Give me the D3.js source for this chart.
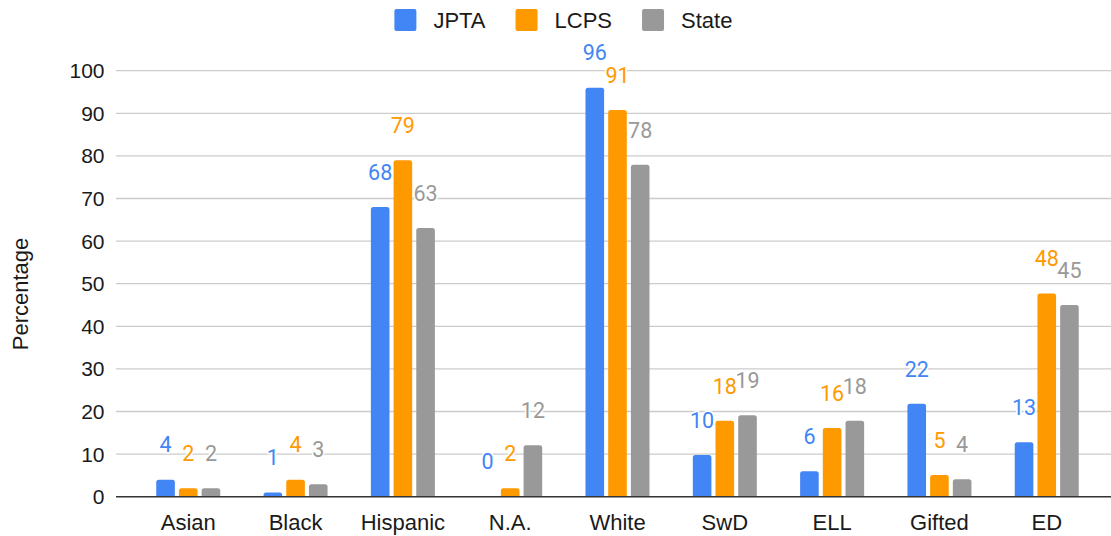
<!DOCTYPE html>
<html>
<head>
<meta charset="utf-8">
<script src="https://cdn.jsdelivr.net/npm/d3@7"></script>
<style>
  html, body { margin: 0; padding: 0; background: #fff; }
  svg { display: block; }
</style>
</head>
<body>
<svg id="chart" width="1111" height="536"></svg>
<script>
const categories = ["Asian", "Black", "Hispanic", "N.A.", "White", "SwD", "ELL", "Gifted", "ED"];
const seriesNames = ["JPTA", "LCPS", "State"];
const jptaValues  = [4, 1, 68, 0, 96, 9.8, 6, 21.8, 12.8];
const lcpsValues  = [2, 4, 79, 2, 90.8, 17.8, 16.1, 5.1, 47.7];
const stateValues = [2, 2.9, 63.1, 12.1, 77.9, 19.1, 17.8, 4.1, 45];
const yTickValues = [0, 10, 20, 30, 40, 50, 60, 70, 80, 90, 100];
const seriesColors = ["#4285f4", "#ff9900", "#999999"];

const seriesValues = [jptaValues, lcpsValues, stateValues];

const W = 1111, H = 536;
const plot = { left: 116, right: 1119, top: 70.7, bottom: 496.7 };
const svg = d3.select("#chart");
svg.append("rect").attr("width", W).attr("height", H).attr("fill", "#fff");

const x = d3.scaleBand().domain(categories).range([plot.left, plot.right])
  .paddingInner(0.4035).paddingOuter(0.375);
const xs = d3.scaleBand().domain(seriesNames).range([0, x.bandwidth()])
  .paddingInner(0.18).paddingOuter(0);
const y = d3.scaleLinear().domain([0, 100]).range([plot.bottom, plot.top]);

const armFont = "'Liberation Sans', Arial, sans-serif";
const textFill = "#1a1a1a";
const fs = 22;

// gridlines
svg.append("g").selectAll("line").data(yTickValues.filter(d => d !== 0)).join("line")
  .attr("x1", plot.left).attr("x2", W)
  .attr("y1", d => y(d)).attr("y2", d => y(d))
  .attr("stroke", "#cccccc").attr("stroke-width", 1.3);

// y tick labels
svg.append("g").selectAll("text").data(yTickValues).join("text")
  .attr("x", 104.5).attr("y", d => y(d)).attr("dy", "0.36em")
  .attr("text-anchor", "end")
  .attr("font-family", armFont).attr("font-size", fs - 1).attr("fill", textFill)
  .text(d => d);

// y title
svg.append("text")
  .attr("transform", "translate(28,294) rotate(-90)")
  .attr("text-anchor", "middle")
  .attr("font-family", armFont).attr("font-size", fs).attr("fill", textFill)
  .text("Percentage");

// bars
const data = [];
categories.forEach((c, i) => {
  seriesNames.forEach((s, j) => {
    data.push({ cat: c, series: s, idx: j, value: seriesValues[j][i] });
  });
});

function barPath(x0, w, yTop, yBase, r) {
  const h = yBase - yTop;
  if (h <= 0) return "";
  const rr = Math.min(r, h, w / 2);
  return `M${x0},${yBase}V${yTop + rr}Q${x0},${yTop} ${x0 + rr},${yTop}` +
    `H${x0 + w - rr}Q${x0 + w},${yTop} ${x0 + w},${yTop + rr}V${yBase}Z`;
}

svg.append("g").selectAll("path").data(data).join("path")
  .attr("d", d => barPath(x(d.cat) + xs(d.series), xs.bandwidth(), y(d.value), y(0), 2.5))
  .attr("fill", d => seriesColors[d.idx]);

// x axis line
svg.append("line")
  .attr("x1", plot.left).attr("x2", W)
  .attr("y1", y(0)).attr("y2", y(0))
  .attr("stroke", "#333").attr("stroke-width", 1.4);

// category labels
svg.append("g").selectAll("text").data(categories).join("text")
  .attr("x", d => x(d) + x.bandwidth() / 2).attr("y", 530)
  .attr("text-anchor", "middle")
  .attr("font-family", armFont).attr("font-size", fs).attr("fill", textFill)
  .text(d => d);

// data labels
svg.append("g").selectAll("text").data(data).join("text")
  .attr("x", d => x(d.cat) + xs(d.series) + xs.bandwidth() / 2)
  .attr("y", d => y(d.value) - 35)
  .attr("dy", "0.36em")
  .attr("text-anchor", "middle")
  .attr("font-family", "Roboto, sans-serif").attr("font-size", 21.5)
  .attr("fill", d => seriesColors[d.idx])
  .attr("stroke", "#fff").attr("stroke-width", 3).attr("paint-order", "stroke")
  .attr("stroke-linejoin", "round")
  .text(d => d3.format(".0f")(d.value));

// legend
const legend = svg.append("g");
let lx = 0;
const items = legend.selectAll("g").data(seriesNames).join("g");
items.append("rect").attr("width", 22).attr("height", 22).attr("rx", 2)
  .attr("y", 9).attr("fill", (d, i) => seriesColors[i]);
items.append("text").attr("x", 39).attr("y", 20).attr("dy", "0.36em")
  .attr("font-family", armFont).attr("font-size", fs).attr("fill", textFill)
  .text(d => d);
items.each(function() {
  const g = d3.select(this);
  g.attr("transform", `translate(${lx},0)`);
  const tw = g.select("text").node().getComputedTextLength();
  lx += 39 + tw + 30;
});
const legendWidth = lx - 30;
legend.attr("transform", `translate(${563.4 - legendWidth / 2},0)`);
</script>
</body>
</html>
